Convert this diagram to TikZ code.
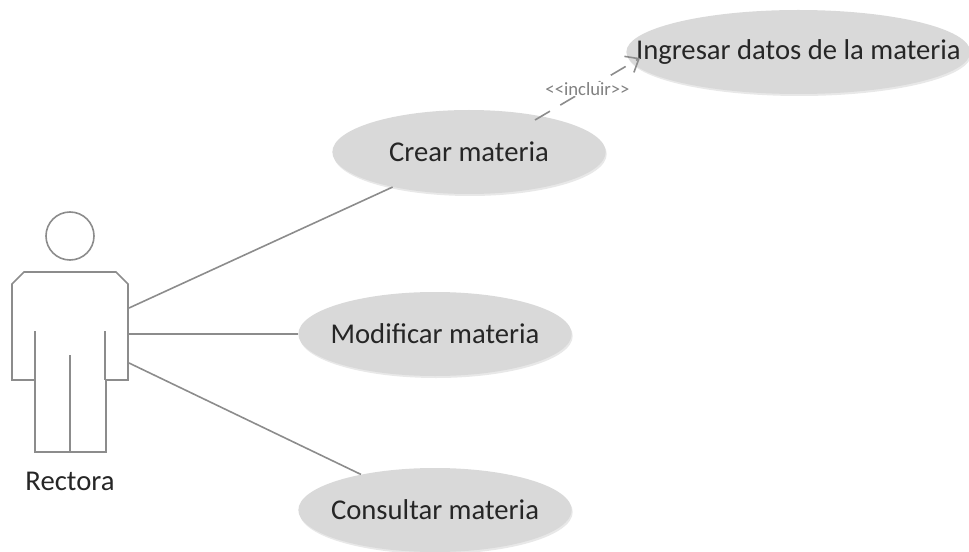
\documentclass[tikz,border=0pt]{standalone}
\usepackage{fontspec}
\setmainfont{Carlito}
\usepackage{tikz}
\usetikzlibrary{arrows.meta,shapes.geometric,shadows}

\definecolor{casefill}{HTML}{D9D9D9}
\definecolor{caseline}{HTML}{8C8C8C}

\begin{document}
\begin{tikzpicture}
	[x=0.75pt,y=-0.75pt,>={Straight Barb[length=8.5pt,width=14pt]},
		case node/.style={ellipse,fill=casefill,minimum width=205pt,minimum height=63pt,inner xsep=-40pt,inner ysep=0pt,text=black!85,font=\fontsize{21.5}{24}\selectfont,drop shadow={opacity=0.18,shadow xshift=0.8pt,shadow yshift=-1.5pt}},
		actor line/.style={draw=caseline,line width=1.2pt},
		link/.style={draw=caseline,line width=1.2pt}]

	\useasboundingbox (0,0) rectangle (969,552);

	\node[case node]    (modificar)    at (435,334)  {Modificar materia};
	\node[case node]    (crear)     [above of = modificar, node distance=136.5pt, xshift=25.5pt]  {Crear materia};
	\node[case node]    (consultar)     [below of = modificar, node distance=132pt]  {Consultar materia};
	\node[case node, minimum width=258pt]    (ingresar)     [right of = crear, node distance=247pt, yshift=75pt]  {Ingresar datos de la materia};

	% actor
	\node[circle,actor line,minimum size=36pt,inner sep=0pt]    (head)    at (70,236)  {};
	\node[text=black!85,font=\fontsize{21.5}{24}\selectfont]    (rectora)    at (70,481)  {Rectora};
	\draw[actor line] (12,284) -- (24,272) -- (116,272) -- (128,284) -- (128,380) -- (106,380) -- (106,452) -- (35,452) -- (35,380) -- (12,380) -- cycle;
	\draw[actor line] (35,331) -- (35,380);
	\draw[actor line] (105,331) -- (105,380);
	\draw[actor line] (70,355) -- (70,452);

	\coordinate (arm1) at (129,308);
	\coordinate (arm2) at (129,334);
	\coordinate (arm3) at (129,363);
	\coordinate (incl) at (535,120);
	\coordinate (incl end) at (640,58);

	\path[link]
	(arm1) edge    (crear)
	(arm2) edge    (modificar)
	(arm3) edge    (consultar)
	;
	\draw[link,->,dash pattern=on 13pt off 9pt] (incl) -- node[pos=0.5,fill=white,inner sep=0.5pt,text=gray,font=\fontsize{14}{15}\selectfont] (label) {{<}{<}incluir{>}{>}} (incl end);

\end{tikzpicture}
\end{document}
